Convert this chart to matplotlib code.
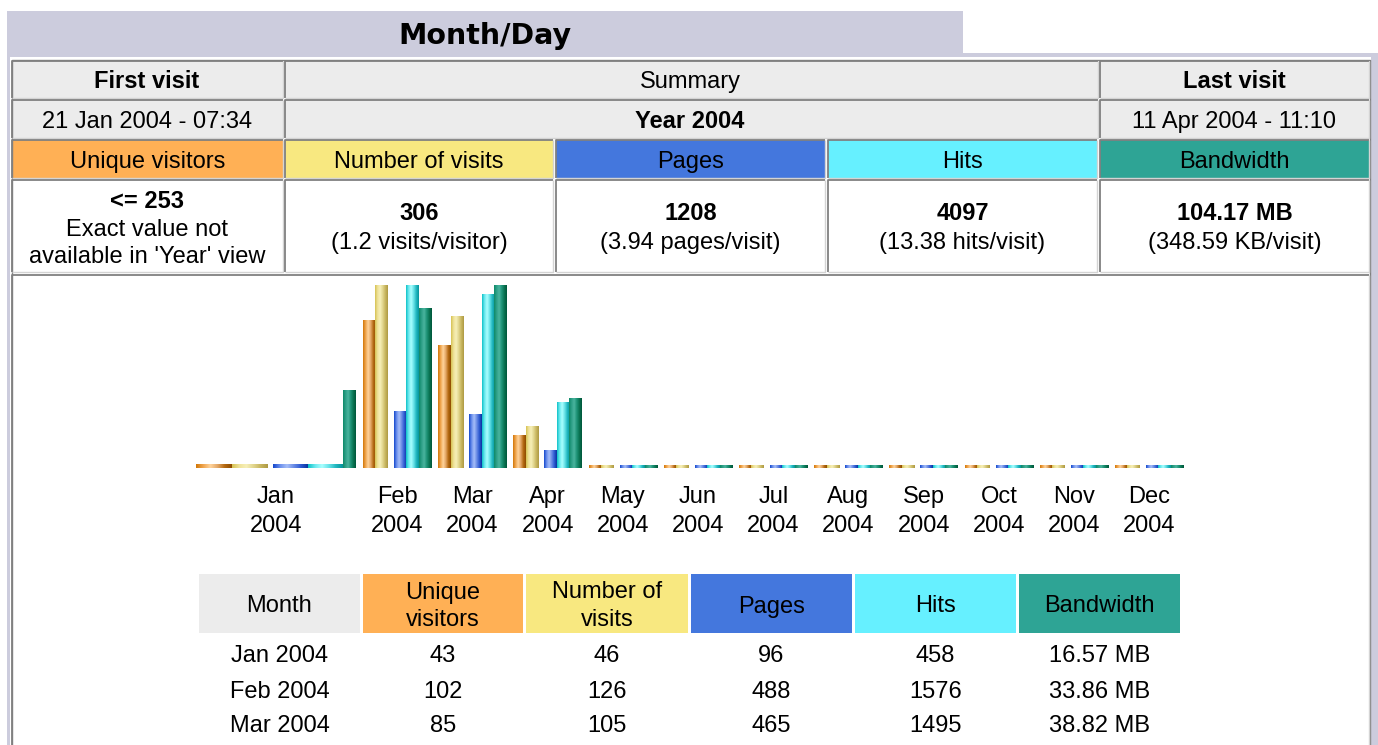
import numpy as np
import matplotlib
matplotlib.use('Agg')
import matplotlib.pyplot as plt
from matplotlib.patches import Rectangle
from matplotlib.colors import LinearSegmentedColormap

# ---------------- data ----------------
months = ['Jan', 'Feb', 'Mar', 'Apr', 'May', 'Jun', 'Jul', 'Aug', 'Sep', 'Oct', 'Nov', 'Dec']
year = '2004'
unique_visitors = [43, 102, 85, 23, 0, 0, 0, 0, 0, 0, 0, 0]
visits = [46, 126, 105, 29, 0, 0, 0, 0, 0, 0, 0, 0]
pages = [96, 488, 465, 159, 0, 0, 0, 0, 0, 0, 0, 0]
hits = [458, 1576, 1495, 568, 0, 0, 0, 0, 0, 0, 0, 0]
bandwidth_mb = [16.57, 33.86, 38.82, 14.92, 0, 0, 0, 0, 0, 0, 0, 0]

series_names = ['Unique visitors', 'Number of visits', 'Pages', 'Hits', 'Bandwidth']
table_headers = ['Month', 'Unique\nvisitors', 'Number of\nvisits', 'Pages', 'Hits', 'Bandwidth']
table_rows = 3  # months listed in the visible part of the table

first_visit = '21 Jan 2004 - 07:34'
last_visit = '11 Apr 2004 - 11:10'
summary_title = 'Year 2004'
summary_main = ['<= 253', '306', '1208', '4097', '104.17 MB']
summary_sub = ["Exact value not\navailable in 'Year' view", '(1.2 visits/visitor)',
               '(3.94 pages/visit)', '(13.38 hits/visit)', '(348.59 KB/visit)']

# ---------------- style ----------------
LAV = '#CCCCDD'
GRAY = '#ECECEC'
COLS = ['#FFB055', '#F8E880', '#4477DD', '#66F0FF', '#2EA495']
GRADS = [
    ['#D27808', '#F0A650', '#FFD49C', '#E4A868', '#B56A12', '#8E4C00'],
    ['#D6C254', '#EFE39A', '#F6EFB8', '#E2D68E', '#C8B660', '#AE9A44'],
    ['#1548CC', '#6C90EC', '#A6BEF8', '#6A8CE6', '#2D5AD2', '#0A34A0'],
    ['#0EC2C8', '#6EEAF0', '#AAFFFF', '#68E2E8', '#22B8C0', '#06949C'],
    ['#0E8A68', '#2FA088', '#4AB49E', '#1F9478', '#0A7452', '#00563A'],
]
BODY = 'Liberation Sans'
FS = 17

W, H = 1378, 745
fig = plt.figure(figsize=(W / 100, H / 100), dpi=100)
ax = fig.add_axes([0, 0, 1, 1])
ax.set_xlim(0, W)
ax.set_ylim(H, 0)
ax.axis('off')


def txt(x, y, s, bold=False, size=FS, family=BODY, **kw):
    ax.text(x, y, s, ha='center', va='baseline', fontsize=size, family=family,
            fontweight='bold' if bold else 'normal', color='black',
            linespacing=1.15, **kw)


def cell(x0, y0, x1, y1, fc, edges=True):
    ax.add_patch(Rectangle((x0, y0), x1 - x0, y1 - y0, facecolor=fc, edgecolor='none', zorder=1))
    if edges:
        ax.plot([x0, x0, x1], [y1, y0, y0], color='#808080', lw=1.3, zorder=2,
                solid_capstyle='butt')
        ax.plot([x1, x1, x0], [y0, y1, y1], color='#D4D4D4', lw=1.0, zorder=2,
                solid_capstyle='butt')


# frame and title tab
ax.add_patch(Rectangle((7, 11), 956, 42, facecolor=LAV, edgecolor='none'))
ax.add_patch(Rectangle((7, 53), 1371, H - 53, facecolor=LAV, edgecolor='none'))
ax.add_patch(Rectangle((10, 57), 1361, H - 57, facecolor='white', edgecolor='none'))
ax.plot([11.5, 11.5, 1369.5, 1369.5], [H, 59.5, 59.5, H], color='#808080', lw=1.0)
ax.text(485, 44, 'Month/Day', ha='center', va='baseline', fontsize=20.5,
        family='DejaVu Sans', fontweight='bold')

# rows 1 & 2
c3 = [(12, 283), (285, 1098), (1100, 1369)]
for (x0, x1) in c3:
    cell(x0, 61, x1, 98, GRAY)
    cell(x0, 100, x1, 138, GRAY)
txt(147, 88, 'First visit', bold=True)
txt(690, 88, 'Summary')
txt(1234, 88, 'Last visit', bold=True)
txt(147, 128, first_visit)
txt(690, 128, summary_title, bold=True)
txt(1234, 128, last_visit)

# row 3 and 4
c5 = [(12, 283), (285, 553), (556, 825), (828, 1097), (1100, 1369)]
for i, (x0, x1) in enumerate(c5):
    cell(x0, 140, x1, 178, COLS[i])
    cell(x0, 180, x1, 272, 'white')
    xc = (x0 + x1) / 2
    txt(xc, 168, series_names[i])
    if i == 0:
        txt(xc, 208.5, summary_main[i], bold=True)
        txt(xc, 236, summary_sub[i].split('\n')[0])
        txt(xc, 263, summary_sub[i].split('\n')[1])
    else:
        txt(xc, 220.5, summary_main[i], bold=True)
        txt(xc, 248.5, summary_sub[i])
cell(12, 275, 1369, H + 5, 'white')

# ---------------- bar chart ----------------
base_y, top_y = 468, 285
bax = fig.add_axes([0, (H - base_y) / H, 1, (base_y - top_y) / H])
bax.patch.set_alpha(0)
bax.axis('off')

series = [unique_visitors, visits, pages, hits, bandwidth_mb]
scales = [max(visits), max(visits), max(hits), max(hits), max(bandwidth_mb)]
min_h = 3 / (base_y - top_y)

# layout: January column is wider (stretched images), others step 75.2 px
centers = [276] + [397.3 + 75.2 * k for k in range(11)]
offs = [-28.1, -15.6, 2.9, 15.4, 27.9]
bw = 12.5
# January's first four images are rendered as flat stretched strips
jan_offs = [-62, -26, 14.5, 49.5, 73.5]
jan_w = [36, 36, 35, 35, 13]
jan_flat_h = 4 / (base_y - top_y)

cmaps = [LinearSegmentedColormap.from_list('g%d' % i, g) for i, g in enumerate(GRADS)]
grad = np.linspace(0, 1, 64).reshape(1, -1)

for s in range(5):
    for m in range(12):
        v = series[s][m] / scales[s]
        if m == 0:
            x = centers[0] + jan_offs[s]
            w = jan_w[s]
            h = v if s == 4 else jan_flat_h
        else:
            x = centers[m] + offs[s]
            w = bw
            h = max(v, min_h)
        bars = bax.bar([x], [h], width=w, color=COLS[s], edgecolor='none', zorder=2)
        p = bars.patches[0]
        im = bax.imshow(grad, cmap=cmaps[s], aspect='auto', interpolation='bilinear',
                        extent=[p.get_x(), p.get_x() + p.get_width(), 0, p.get_height()],
                        zorder=3)
        im.set_clip_path(p)

bax.set_xlim(0, W)
bax.set_ylim(0, 1)

for m in range(12):
    txt(centers[m], 503, months[m])
    txt(centers[m], 531.5, year)

# ---------------- monthly table ----------------
tcols = [(199, 360), (363, 523), (526, 688), (691, 852), (855, 1016), (1019, 1180)]
tfc = [GRAY] + COLS
for i, (x0, x1) in enumerate(tcols):
    cell(x0, 574, x1, 633, tfc[i], edges=False)
    xc = (x0 + x1) / 2
    lines = table_headers[i].split('\n')
    if len(lines) == 1:
        txt(xc, 612.5, lines[0])
    else:
        txt(xc, 598.5, lines[0])
        txt(xc, 626.5, lines[1])

row_base = [661.5, 697.5, 732.5]
for r in range(table_rows):
    vals = ['%s %s' % (months[r], year), str(unique_visitors[r]), str(visits[r]),
            str(pages[r]), str(hits[r]), '%.2f MB' % bandwidth_mb[r]]
    for i, (x0, x1) in enumerate(tcols):
        txt((x0 + x1) / 2, row_base[r], vals[i])

fig.savefig('out.png', dpi=100, facecolor='white')
